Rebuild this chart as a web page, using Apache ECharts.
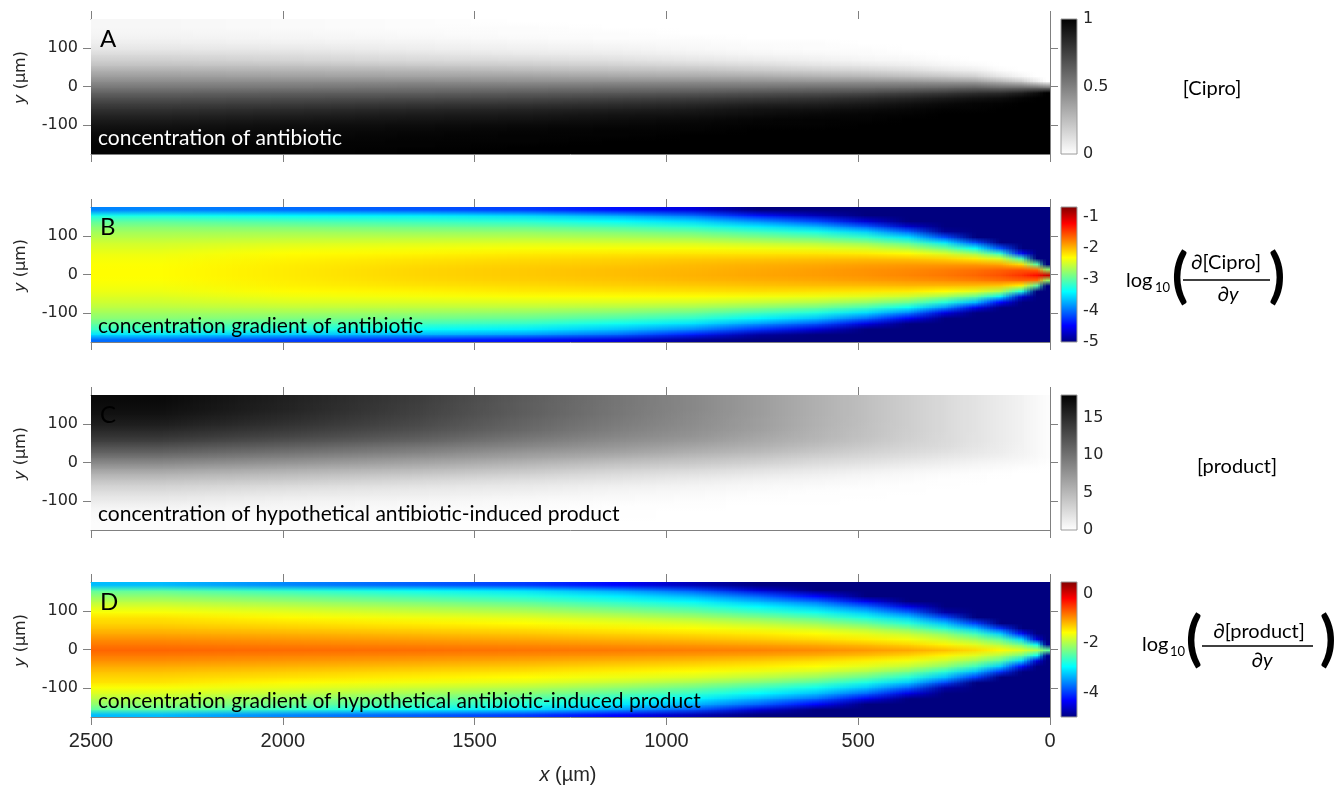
<!DOCTYPE html>
<html>
<head>
<meta charset="utf-8">
<script src="https://cdn.jsdelivr.net/npm/echarts@6/dist/echarts.min.js"></script>
<style>
  html, body { margin: 0; padding: 0; background: #ffffff; }
  #chart { width: 1338px; height: 787px; }
</style>
</head>
<body>
<div id="chart"></div>
<script>
// ---- Sampling grid (µm) -------------------------------------------------
// Column edges along the channel (x) and row edges across it (y).
const X_EDGES = [0, 20, 50, 100, 160, 230, 320, 420, 540, 680, 840, 1020, 1240, 1500, 1800, 2150, 2500];
const Y_EDGES = [-175, -161, -147, -133, -119, -105, -91, -77, -63, -49, -35, -21, -7,
                 7, 21, 35, 49, 63, 77, 91, 105, 119, 133, 147, 161, 175];

// Each inner array is one column (x = 10, 35, 75 ... 2325 µm),
// listed from the lower wall (y = -168) to the upper wall (y = +168).

// A: normalised antibiotic concentration
const cipro = [
  [1,1,1,1,1,1,1,1,1,1,1,1,0.5,0,0,0,0,0,0,0,0,0,0,0,0],
  [1,1,1,1,1,1,1,1,1,1,1,0.93,0.54,0.09,0,0,0,0,0,0,0,0,0,0,0],
  [1,1,1,1,1,1,1,1,1,1,0.98,0.86,0.56,0.21,0.04,0,0,0,0,0,0,0,0,0,0],
  [1,1,1,1,1,1,1,1,1,0.99,0.94,0.81,0.56,0.29,0.10,0.02,0,0,0,0,0,0,0,0,0],
  [1,1,1,1,1,1,1,1,0.99,0.98,0.92,0.80,0.60,0.37,0.18,0.07,0.02,0,0,0,0,0,0,0,0],
  [1,1,1,1,1,1,1,1,0.99,0.96,0.89,0.76,0.58,0.39,0.22,0.10,0.04,0.01,0,0,0,0,0,0,0],
  [1,1,1,1,1,1,1,0.99,0.97,0.93,0.85,0.73,0.57,0.41,0.25,0.14,0.07,0.03,0.01,0,0,0,0,0,0],
  [1,1,1,1,1,1,0.99,0.98,0.95,0.90,0.82,0.70,0.56,0.42,0.28,0.17,0.09,0.04,0.02,0.01,0,0,0,0,0],
  [1,1,1,1,1,0.99,0.99,0.97,0.93,0.87,0.79,0.68,0.56,0.42,0.30,0.19,0.11,0.06,0.03,0.01,0.01,0,0,0,0],
  [1,1,1,1,1,0.99,0.98,0.95,0.92,0.86,0.77,0.67,0.55,0.43,0.32,0.21,0.14,0.08,0.04,0.02,0.01,0,0,0,0],
  [1,1,1,1,0.99,0.98,0.96,0.93,0.89,0.83,0.75,0.65,0.55,0.44,0.33,0.24,0.16,0.10,0.06,0.03,0.02,0.01,0,0,0],
  [1,1,1,0.99,0.99,0.97,0.95,0.92,0.87,0.81,0.73,0.64,0.55,0.44,0.34,0.25,0.18,0.12,0.08,0.05,0.03,0.01,0.01,0,0],
  [1,1,0.99,0.99,0.98,0.96,0.93,0.90,0.85,0.79,0.71,0.63,0.54,0.44,0.36,0.27,0.20,0.14,0.09,0.06,0.04,0.02,0.01,0.01,0],
  [1,0.99,0.99,0.98,0.97,0.95,0.92,0.89,0.84,0.78,0.70,0.62,0.54,0.45,0.36,0.29,0.21,0.15,0.11,0.07,0.05,0.03,0.02,0.01,0.01],
  [0.99,0.99,0.98,0.97,0.96,0.94,0.91,0.87,0.82,0.76,0.69,0.62,0.53,0.45,0.37,0.30,0.23,0.17,0.13,0.09,0.06,0.04,0.03,0.02,0.02],
  [0.99,0.99,0.98,0.97,0.95,0.92,0.89,0.85,0.80,0.75,0.68,0.61,0.53,0.45,0.38,0.31,0.24,0.19,0.14,0.10,0.07,0.05,0.04,0.03,0.03]
];

// B: log10 of the transverse antibiotic gradient
const ciproGrad = [
  [-5,-5,-5,-5,-5,-5,-5,-5,-5,-5,-5,-2.74,-1.0,-2.74,-5,-5,-5,-5,-5,-5,-5,-5,-5,-5,-5],
  [-5,-5,-5,-5,-5,-5,-5,-5,-5,-5,-3.02,-1.71,-1.28,-1.71,-3.02,-5,-5,-5,-5,-5,-5,-5,-5,-5,-5],
  [-5,-5,-5,-5,-5,-5,-5,-5,-4.65,-3.27,-2.28,-1.67,-1.45,-1.62,-2.17,-3.11,-4.43,-5,-5,-5,-5,-5,-5,-5,-5],
  [-5,-5,-5,-5,-5,-5,-5,-4.45,-3.44,-2.65,-2.08,-1.72,-1.58,-1.66,-1.95,-2.47,-3.20,-4.14,-5,-5,-5,-5,-5,-5,-5],
  [-5,-5,-5,-5,-5,-5,-4.51,-3.67,-2.98,-2.43,-2.03,-1.78,-1.67,-1.72,-1.90,-2.24,-2.73,-3.36,-4.14,-5,-5,-5,-5,-5,-5],
  [-5,-5,-5,-5,-5,-4.56,-3.84,-3.23,-2.72,-2.31,-2.02,-1.83,-1.74,-1.77,-1.90,-2.13,-2.47,-2.92,-3.48,-4.14,-4.91,-5,-5,-5,-5],
  [-5,-5,-5,-5,-4.49,-3.89,-3.36,-2.91,-2.53,-2.23,-2.01,-1.87,-1.80,-1.82,-1.90,-2.07,-2.31,-2.63,-3.03,-3.50,-4.05,-4.68,-5,-5,-5],
  [-5,-5,-5,-4.56,-4.00,-3.52,-3.10,-2.74,-2.44,-2.21,-2.03,-1.91,-1.86,-1.86,-1.92,-2.05,-2.24,-2.48,-2.79,-3.16,-3.59,-4.08,-4.65,-5,-5],
  [-5,-5,-4.62,-4.08,-3.64,-3.25,-2.91,-2.62,-2.38,-2.19,-2.04,-1.95,-1.90,-1.91,-1.96,-2.06,-2.21,-2.41,-2.66,-2.96,-3.30,-3.70,-4.16,-4.75,-5],
  [-5,-4.85,-4.25,-3.80,-3.42,-3.09,-2.80,-2.55,-2.35,-2.18,-2.06,-1.98,-1.94,-1.95,-1.99,-2.08,-2.21,-2.37,-2.59,-2.84,-3.13,-3.47,-3.86,-4.40,-5],
  [-4.90,-4.35,-3.88,-3.50,-3.19,-2.92,-2.69,-2.49,-2.32,-2.19,-2.09,-2.02,-1.99,-2.00,-2.03,-2.10,-2.21,-2.34,-2.51,-2.72,-2.96,-3.23,-3.56,-4.00,-4.60],
  [-4.60,-4.00,-3.63,-3.33,-3.06,-2.83,-2.63,-2.46,-2.32,-2.21,-2.12,-2.07,-2.04,-2.04,-2.08,-2.13,-2.22,-2.34,-2.49,-2.66,-2.86,-3.09,-3.37,-3.75,-4.40],
  [-4.40,-3.80,-3.45,-3.17,-2.95,-2.76,-2.59,-2.45,-2.33,-2.23,-2.16,-2.11,-2.09,-2.09,-2.12,-2.17,-2.24,-2.34,-2.46,-2.61,-2.78,-2.98,-3.22,-3.55,-4.20],
  [-4.30,-3.70,-3.36,-3.11,-2.90,-2.73,-2.58,-2.46,-2.35,-2.27,-2.20,-2.16,-2.14,-2.14,-2.17,-2.21,-2.28,-2.36,-2.47,-2.60,-2.76,-2.93,-3.15,-3.45,-4.10],
  [-4.20,-3.60,-3.25,-3.02,-2.85,-2.70,-2.57,-2.46,-2.37,-2.30,-2.26,-2.24,-2.23,-2.23,-2.24,-2.27,-2.31,-2.38,-2.48,-2.59,-2.72,-2.87,-3.08,-3.40,-4.00],
  [-4.00,-3.50,-3.15,-2.96,-2.81,-2.70,-2.60,-2.52,-2.45,-2.39,-2.35,-2.32,-2.31,-2.31,-2.32,-2.35,-2.39,-2.45,-2.52,-2.61,-2.71,-2.83,-3.00,-3.30,-3.90]
];

// C: concentration of the antibiotic-induced product
const product = [
  [0,0,0,0,0,0,0,0,0,0,0,0,0.1,0.2,0.2,0.2,0.2,0.2,0.2,0.2,0.2,0.2,0.2,0.2,0.2],
  [0,0,0,0,0,0,0,0,0,0,0,0.05,0.25,0.45,0.5,0.5,0.5,0.5,0.5,0.5,0.5,0.5,0.5,0.5,0.5],
  [0,0,0,0,0,0,0,0,0,0,0,0.1,0.4,0.7,0.85,0.9,0.9,0.9,0.9,0.9,0.9,0.9,0.9,0.9,0.9],
  [0,0,0,0,0,0,0,0,0,0,0.1,0.25,0.6,1.0,1.25,1.35,1.4,1.4,1.4,1.4,1.4,1.4,1.4,1.4,1.4],
  [0,0,0,0,0,0,0,0,0,0.05,0.15,0.4,0.8,1.25,1.65,1.85,1.95,2.0,2.0,2.0,2.0,2.0,2.0,2.0,2.0],
  [0,0,0,0,0,0,0,0,0.05,0.1,0.3,0.65,1.1,1.65,2.1,2.45,2.6,2.65,2.7,2.7,2.7,2.7,2.7,2.7,2.7],
  [0,0,0,0,0,0,0,0.05,0.1,0.25,0.5,0.95,1.5,2.1,2.6,3.0,3.25,3.4,3.45,3.5,3.5,3.5,3.5,3.5,3.5],
  [0,0,0,0,0,0,0.05,0.1,0.2,0.45,0.8,1.35,2.0,2.6,3.2,3.7,4.1,4.3,4.4,4.45,4.5,4.5,4.5,4.5,4.5],
  [0,0,0,0,0,0.05,0.05,0.15,0.4,0.7,1.2,1.8,2.5,3.2,3.9,4.5,5.0,5.3,5.4,5.5,5.55,5.6,5.6,5.6,5.6],
  [0,0,0,0,0,0.05,0.15,0.35,0.55,1.0,1.6,2.3,3.2,4.0,4.8,5.5,6.0,6.4,6.7,6.9,6.9,7.0,7.0,7.0,7.0],
  [0,0,0,0,0.1,0.15,0.35,0.6,0.9,1.4,2.1,2.9,3.8,4.7,5.6,6.4,7.1,7.6,7.9,8.1,8.2,8.3,8.4,8.4,8.4],
  [0,0,0.05,0.1,0.1,0.3,0.5,0.8,1.3,1.9,2.6,3.5,4.4,5.5,6.5,7.4,8.0,8.6,9.0,9.3,9.5,9.7,9.7,9.8,9.8],
  [0,0.05,0.1,0.15,0.25,0.45,0.8,1.2,1.7,2.4,3.4,4.3,5.3,6.5,7.4,8.5,9.3,10.0,10.6,10.9,11.1,11.4,11.5,11.5,11.6],
  [0.05,0.1,0.15,0.3,0.4,0.7,1.1,1.5,2.2,3.0,4.1,5.2,6.4,7.6,8.8,9.8,10.9,11.7,12.3,12.8,13.1,13.4,13.5,13.7,13.8],
  [0.15,0.15,0.3,0.5,0.65,0.95,1.4,2.0,2.8,3.8,4.9,6.0,7.4,8.7,9.9,11.1,12.2,13.1,13.8,14.4,14.9,15.2,15.5,15.6,15.7],
  [0.2,0.2,0.35,0.5,0.85,1.4,1.9,2.6,3.4,4.4,5.6,6.9,8.3,9.8,11.1,12.3,13.5,14.4,15.2,15.9,16.4,16.8,17.1,17.3,17.4]
];

// D: log10 of the transverse product gradient
const productGrad = [
  [-5,-5,-5,-5,-5,-5,-5,-5,-5,-5,-5,-4.9,-2.4,-4.9,-5,-5,-5,-5,-5,-5,-5,-5,-5,-5,-5],
  [-5,-5,-5,-5,-5,-5,-5,-5,-5,-5,-4.5,-2.9,-2.0,-2.9,-4.5,-5,-5,-5,-5,-5,-5,-5,-5,-5,-5],
  [-5,-5,-5,-5,-5,-5,-5,-5,-5,-4.25,-3.13,-2.34,-1.75,-2.34,-3.13,-4.25,-5,-5,-5,-5,-5,-5,-5,-5,-5],
  [-5,-5,-5,-5,-5,-5,-5,-5,-4.05,-3.2,-2.45,-2.0,-1.55,-2.0,-2.45,-3.2,-4.05,-5,-5,-5,-5,-5,-5,-5,-5],
  [-5,-5,-5,-5,-5,-5,-5,-3.99,-3.26,-2.61,-2.11,-1.74,-1.38,-1.74,-2.11,-2.61,-3.26,-3.99,-5,-5,-5,-5,-5,-5,-5],
  [-5,-5,-5,-5,-5,-4.78,-3.92,-3.27,-2.71,-2.19,-1.84,-1.52,-1.22,-1.52,-1.84,-2.19,-2.71,-3.27,-3.92,-4.78,-5,-5,-5,-5,-5],
  [-5,-5,-5,-5,-4.44,-3.77,-3.21,-2.73,-2.27,-1.90,-1.63,-1.35,-1.10,-1.35,-1.63,-1.90,-2.27,-2.73,-3.21,-3.77,-4.44,-5,-5,-5,-5],
  [-5,-5,-5,-4.38,-3.75,-3.24,-2.81,-2.38,-2.00,-1.72,-1.49,-1.23,-1.02,-1.23,-1.49,-1.72,-2.00,-2.38,-2.81,-3.24,-3.75,-4.38,-5,-5,-5],
  [-5,-5,-4.29,-3.72,-3.27,-2.86,-2.48,-2.11,-1.80,-1.58,-1.38,-1.14,-0.95,-1.14,-1.38,-1.58,-1.80,-2.11,-2.48,-2.86,-3.27,-3.72,-4.29,-5,-5],
  [-5,-4.5,-3.77,-3.34,-2.95,-2.60,-2.25,-1.93,-1.68,-1.48,-1.29,-1.08,-0.90,-1.08,-1.29,-1.48,-1.68,-1.93,-2.25,-2.60,-2.95,-3.34,-3.77,-4.5,-5],
  [-4.7,-3.85,-3.33,-2.97,-2.65,-2.34,-2.04,-1.77,-1.58,-1.41,-1.22,-1.04,-0.88,-1.04,-1.22,-1.41,-1.58,-1.77,-2.04,-2.34,-2.65,-2.97,-3.33,-3.85,-4.7],
  [-4.3,-3.45,-3.03,-2.73,-2.44,-2.15,-1.88,-1.67,-1.50,-1.35,-1.17,-1.01,-0.86,-1.01,-1.17,-1.35,-1.50,-1.67,-1.88,-2.15,-2.44,-2.73,-3.03,-3.45,-4.3],
  [-4.0,-3.1,-2.75,-2.48,-2.21,-1.96,-1.73,-1.57,-1.42,-1.28,-1.11,-0.96,-0.83,-0.96,-1.11,-1.28,-1.42,-1.57,-1.73,-1.96,-2.21,-2.48,-2.75,-3.1,-4.0],
  [-3.8,-2.9,-2.57,-2.31,-2.06,-1.84,-1.65,-1.49,-1.36,-1.22,-1.06,-0.93,-0.80,-0.93,-1.06,-1.22,-1.36,-1.49,-1.65,-1.84,-2.06,-2.31,-2.57,-2.9,-3.8],
  [-3.6,-2.7,-2.36,-2.13,-1.91,-1.71,-1.56,-1.42,-1.30,-1.17,-1.02,-0.90,-0.78,-0.90,-1.02,-1.17,-1.30,-1.42,-1.56,-1.71,-1.91,-2.13,-2.36,-2.7,-3.6],
  [-3.3,-2.45,-2.17,-1.96,-1.77,-1.60,-1.43,-1.35,-1.24,-1.12,-0.97,-0.86,-0.75,-0.86,-0.97,-1.12,-1.24,-1.35,-1.43,-1.60,-1.77,-1.96,-2.17,-2.45,-3.3]
];

// Axis ticks
const X_TICKS_STEP = 500;
const Y_TICKS = [-100, 0, 100];
const ciproTicks = [0, 0.5, 1];
const ciproGradTicks = [-5, -4, -3, -2, -1];
const productTicks = [0, 5, 10, 15];
const productGradTicks = [-4, -2, 0];

// ---- Colour maps ---------------------------------------------------------
const JET = ['#00007f', '#0000ff', '#007fff', '#00ffff', '#7fff7f', '#ffff00', '#ff7f00', '#ff0000', '#7f0000'];
const GRAY = ['#ffffff', '#000000'];

// ---- Layout --------------------------------------------------------------
const PLOT_LEFT = 91, PLOT_W = 959;
const PANEL_TOPS = [19, 207, 395, 582];
const PANEL_H = 135;
const CB_LEFT = 1061, CB_W = 16;
const AXIS_GRAY = '#808080';
const LABEL_COLOR = '#262626';
const TICK_FONT = 'DejaVu Sans';
const NOTE_FONT = 'Lato';
const SLICE_PX = 3;

const panels = [
  { values: cipro, min: 0, max: 1, colors: GRAY, ticks: ciproTicks,
    letter: 'A', note: 'concentration of antibiotic', noteColor: '#ffffff' },
  { values: ciproGrad, min: -5, max: -0.7, colors: JET, ticks: ciproGradTicks,
    letter: 'B', note: 'concentration gradient of antibiotic', noteColor: '#000000' },
  { values: product, min: 0, max: 18.07, colors: GRAY, ticks: productTicks,
    letter: 'C', note: 'concentration of hypothetical antibiotic-induced product', noteColor: '#000000' },
  { values: productGrad, min: -5, max: 0.48, colors: JET, ticks: productGradTicks,
    letter: 'D', note: 'concentration gradient of hypothetical antibiotic-induced product', noteColor: '#000000' }
];

const ROWS = Y_EDGES.length - 1;
const COLS = X_EDGES.length - 1;
const xMid = k => (X_EDGES[k] + X_EDGES[k + 1]) / 2;
const yMid = k => (Y_EDGES[k] + Y_EDGES[k + 1]) / 2;

function cellsOf(columns) {
  const out = [];
  columns.forEach((col, i) => {
    col.forEach((v, j) => {
      out.push([X_EDGES[i], X_EDGES[i + 1], Y_EDGES[j], Y_EDGES[j + 1], v]);
    });
  });
  return out;
}

// Interpolated shading between neighbouring sample centres: each item paints
// the patch between its own centre and the next column / row centres, with the
// colours that the visual map gives to the four samples. Slices are snapped to
// whole pixels so that no seams show between them.
function renderShaded(params, api) {
  const idx = params.dataIndexInside;
  const i = Math.floor(idx / ROWS);
  const j = idx % ROWS;
  if (i >= COLS - 1 || j >= ROWS - 1) return { type: 'group', children: [] };

  const x0 = i === 0 ? X_EDGES[0] : xMid(i);
  const x1 = i === COLS - 2 ? X_EDGES[COLS] : xMid(i + 1);
  const y0 = j === 0 ? Y_EDGES[0] : yMid(j);
  const y1 = j === ROWS - 2 ? Y_EDGES[ROWS] : yMid(j + 1);

  const c00 = api.visual('color', idx);
  const c10 = api.visual('color', idx + ROWS);
  const c01 = api.visual('color', idx + 1);
  const c11 = api.visual('color', idx + ROWS + 1);

  const pA = api.coord([x0, y0]);
  const pB = api.coord([x1, y1]);
  const left = Math.round(Math.min(pA[0], pB[0]));
  const right = Math.round(Math.max(pA[0], pB[0]));
  const top = Math.round(Math.min(pA[1], pB[1]));
  const bottom = Math.round(Math.max(pA[1], pB[1]));
  const h = Math.max(1, bottom - top);

  const pxI = api.coord([xMid(i), 0])[0];
  const pxN = api.coord([xMid(i + 1), 0])[0];
  const pyJ = api.coord([0, yMid(j)])[1];
  const pyN = api.coord([0, yMid(j + 1)])[1];
  const oLow = Math.min(1, Math.max(0, (pyJ - top) / h));
  const oUp = Math.min(1, Math.max(0, (pyN - top) / h));

  const children = [];
  for (let xs = left; xs < right; xs += SLICE_PX) {
    const xe = Math.min(right, xs + SLICE_PX);
    const px = (xs + xe) / 2;
    const t = Math.min(1, Math.max(0, (px - pxI) / (pxN - pxI)));
    const cLow = echarts.color.lerp(t, [c00, c10]);
    const cUp = echarts.color.lerp(t, [c01, c11]);
    children.push({
      type: 'rect',
      shape: { x: xs, y: top, width: xe - xs + 1, height: h + 1 },
      style: {
        fill: new echarts.graphic.LinearGradient(0, 0, 0, 1, [
          { offset: oUp, color: cUp }, { offset: oLow, color: cLow }
        ])
      }
    });
  }
  return { type: 'group', children: children };
}

const lineStyle = { color: AXIS_GRAY, width: 1 };
const grids = [], series = [], visualMaps = [], elements = [];
const plotX = [], plotY = [], barX = [], barY = [];
const nPanels = panels.length;

panels.forEach((p, i) => {
  const top = PANEL_TOPS[i];
  const last = i === nPanels - 1;
  grids[i] = { left: PLOT_LEFT, width: PLOT_W, top: top, height: PANEL_H };
  grids[nPanels + i] = { left: CB_LEFT, width: CB_W, top: top, height: PANEL_H };

  const xCommon = {
    gridIndex: i, type: 'value', inverse: true, min: 0, max: 2500, interval: X_TICKS_STEP,
    axisLine: { show: true, onZero: false, lineStyle },
    axisTick: { show: true, length: 8, lineStyle },
    splitLine: { show: false }
  };
  plotX.push(Object.assign({}, xCommon, {
    position: 'bottom',
    axisLabel: { show: last, margin: 14, color: LABEL_COLOR, fontFamily: 'Liberation Sans', fontSize: 20,
                 formatter: v => String(v) }
  }));
  plotX.push(Object.assign({}, xCommon, { position: 'top', axisLabel: { show: false } }));

  const yCommon = {
    gridIndex: i, type: 'value', min: -175, max: 175,
    axisLine: { show: true, onZero: false, lineStyle },
    axisTick: { show: true, length: 8, lineStyle, customValues: Y_TICKS },
    splitLine: { show: false }
  };
  plotY.push(Object.assign({}, yCommon, {
    position: 'left',
    axisLabel: { customValues: Y_TICKS, margin: 13, color: LABEL_COLOR, fontFamily: TICK_FONT, fontSize: 16 }
  }));
  plotY.push(Object.assign({}, yCommon, { position: 'right', axisLabel: { show: false } }));

  // colour bar scale (its own small grid)
  barX.push({ gridIndex: nPanels + i, type: 'value', show: false, min: 0, max: 1 });
  barY.push({
    gridIndex: nPanels + i, type: 'value', position: 'right', min: p.min, max: p.max,
    axisLine: { show: false }, axisTick: { show: false }, splitLine: { show: false },
    axisLabel: { customValues: p.ticks, margin: 6, color: LABEL_COLOR, fontFamily: TICK_FONT, fontSize: 16 }
  });

  series.push({
    type: 'custom', xAxisIndex: 2 * i, yAxisIndex: 2 * i, clip: true, silent: true,
    renderItem: renderShaded, encode: { x: [0, 1], y: [2, 3] }, data: cellsOf(p.values)
  });
  visualMaps.push({
    type: 'continuous', show: false, seriesIndex: i, dimension: 4,
    min: p.min, max: p.max, inRange: { color: p.colors }
  });

  // y-axis title
  elements.push({
    type: 'text', x: 21, y: top + PANEL_H / 2 - 9, rotation: Math.PI / 2, z: 100,
    style: {
      text: '{i|y} (µm)', align: 'center', verticalAlign: 'middle',
      fill: LABEL_COLOR, fontFamily: TICK_FONT, fontSize: 16,
      rich: { i: { fontStyle: 'italic', fontFamily: TICK_FONT, fontSize: 16, fill: LABEL_COLOR } }
    }
  });
  // panel letter and caption
  elements.push({
    type: 'text', x: 100, y: top + 20, z: 100,
    style: { text: p.letter, fill: '#000000', fontFamily: NOTE_FONT, fontSize: 24, verticalAlign: 'middle' }
  });
  elements.push({
    type: 'text', x: 98, y: top + PANEL_H - 16, z: 100,
    style: { text: p.note, fill: p.noteColor, fontFamily: NOTE_FONT, fontSize: 21, verticalAlign: 'middle' }
  });

  // colour bar fill
  const stops = p.colors.map((c, k) => ({ offset: k / (p.colors.length - 1), color: c }));
  elements.push({
    type: 'rect', z: 100,
    shape: { x: CB_LEFT, y: top, width: CB_W, height: PANEL_H },
    style: { fill: new echarts.graphic.LinearGradient(0, 1, 0, 0, stops), stroke: '#9a9a9a', lineWidth: 1 }
  });
});

// x-axis title
elements.push({
  type: 'text', x: 568, y: 775, z: 100,
  style: {
    text: '{i|x} (µm)', align: 'center', verticalAlign: 'middle',
    fill: LABEL_COLOR, fontFamily: 'Liberation Sans', fontSize: 20,
    rich: { i: { fontStyle: 'italic', fontFamily: 'Liberation Sans', fontSize: 20, fill: LABEL_COLOR } }
  }
});

// Quantity labels to the right of the colour bars
function label(x, y, text, size, extra) {
  return {
    type: 'text', x: x, y: y, z: 100,
    style: Object.assign({ text: text, fill: '#000000', fontFamily: NOTE_FONT, fontSize: size,
                           align: 'center', verticalAlign: 'middle' }, extra || {})
  };
}
const italicRich = { rich: { i: { fontStyle: 'italic', fontFamily: NOTE_FONT, fontSize: 20 } } };
elements.push(label(1212, 89, '[Cipro]', 20));
elements.push(label(1237, 467, '[product]', 20));

// log10( d[Cipro] / dy )
elements.push(label(1126, 281, 'log', 20, { align: 'left' }));
elements.push(label(1155, 288, '10', 13, { align: 'left' }));
elements.push(label(1180, 277, '(', 60, { fontWeight: 'bold' }));
elements.push(label(1226, 263, '∂[Cipro]', 20));
elements.push({ type: 'line', z: 100, shape: { x1: 1183, y1: 280, x2: 1270, y2: 280 },
                style: { stroke: '#000000', lineWidth: 1.5 } });
elements.push(label(1228, 295, '∂{i|y}', 20, italicRich));
elements.push(label(1277, 277, ')', 60, { fontWeight: 'bold' }));

// log10( d[product] / dy )
elements.push(label(1142, 645, 'log', 20, { align: 'left' }));
elements.push(label(1170, 652, '10', 13, { align: 'left' }));
elements.push(label(1194, 640, '(', 60, { fontWeight: 'bold' }));
elements.push(label(1259, 632, '∂[product]', 20));
elements.push({ type: 'line', z: 100, shape: { x1: 1202, y1: 646, x2: 1313, y2: 646 },
                style: { stroke: '#000000', lineWidth: 1.5 } });
elements.push(label(1262, 661, '∂{i|y}', 20, italicRich));
elements.push(label(1328, 640, ')', 60, { fontWeight: 'bold' }));

const chart = echarts.init(document.getElementById('chart'), null, { renderer: 'canvas' });
chart.setOption({
  animation: false,
  backgroundColor: '#ffffff',
  grid: grids,
  xAxis: plotX.concat(barX),
  yAxis: plotY.concat(barY),
  visualMap: visualMaps,
  series: series,
  graphic: { elements: elements }
});
</script>
</body>
</html>
